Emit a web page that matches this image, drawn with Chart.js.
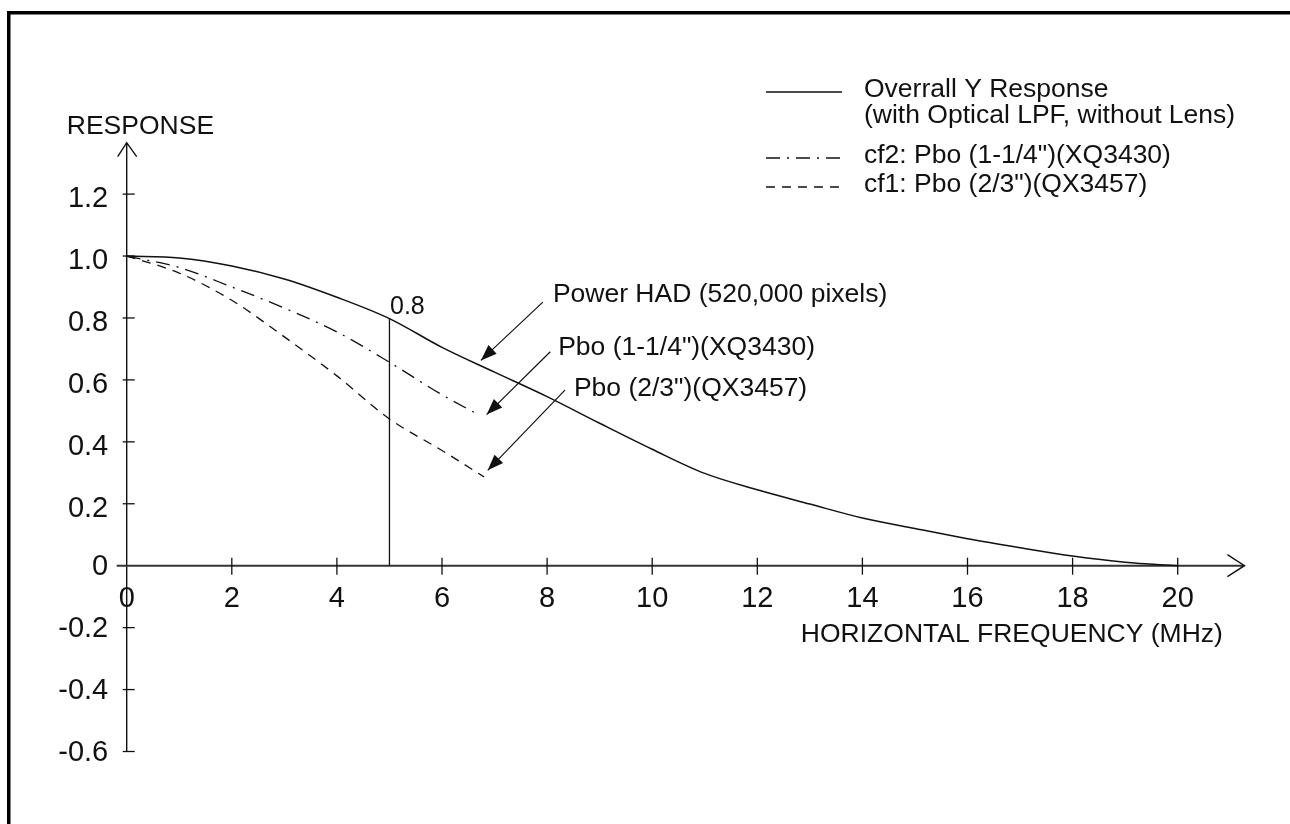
<!DOCTYPE html>
<html lang="en">
<head>
<meta charset="UTF-8">
<title>Horizontal frequency response</title>
<script src="https://cdn.jsdelivr.net/npm/chart.js"></script>
<style>
  html, body { margin: 0; padding: 0; background: #fff; }
  #wrap { width: 1290px; height: 824px; position: relative; }
</style>
</head>
<body>
<div id="wrap"><canvas id="myChart" width="1290" height="824"></canvas></div>
<script>
// values (MHz -> relative response)
var overallFreq = [0, 1, 2, 3, 4, 5, 6, 7, 8, 9, 10, 11, 12, 13, 14, 15, 16, 17, 18, 19, 20];
var overallResp = [1.0, 0.994, 0.968, 0.926, 0.867, 0.798, 0.705, 0.625, 0.546, 0.46, 0.376, 0.298, 0.245, 0.199, 0.154, 0.12, 0.087, 0.058, 0.031, 0.011, 0.0];

var cf2Freq = [0, 1, 2, 3, 4, 5, 6, 6.7];
var cf2Resp = [1.0, 0.963, 0.9, 0.832, 0.755, 0.657, 0.552, 0.487];

var cf1Freq = [0, 1, 2, 3, 4, 5, 6, 6.8];
var cf1Resp = [1.0, 0.945, 0.857, 0.739, 0.613, 0.474, 0.372, 0.287];

var xTicks = [0, 2, 4, 6, 8, 10, 12, 14, 16, 18, 20];
var yTicks = [1.2, 1.0, 0.8, 0.6, 0.4, 0.2, 0, -0.2, -0.4, -0.6];
var yTickLabels = ['1.2', '1.0', '0.8', '0.6', '0.4', '0.2', '0', '-0.2', '-0.4', '-0.6'];

var legendLabels = ['Overrall Y Response', 'cf2: Pbo (1-1/4")(XQ3430)', 'cf1: Pbo (2/3")(QX3457)'];
var legendSub = '(with Optical LPF, without Lens)';

var markerFreq = 5;
var markerResp = 0.8;

var FONT = '"Liberation Sans", Arial, Helvetica, sans-serif';
var INK = '#111';

function pts(xs, ys) {
    return xs.map(function (x, i) { return { x: x, y: ys[i] }; });
}

function arrow(ctx, x1, y1, x2, y2) {
    ctx.beginPath();
    ctx.moveTo(x1, y1);
    ctx.lineTo(x2, y2);
    ctx.stroke();
    var a = Math.atan2(y2 - y1, x2 - x1);
    var len = 16, half = 6;
    ctx.beginPath();
    ctx.moveTo(x2, y2);
    ctx.lineTo(x2 - len * Math.cos(a) + half * Math.sin(a), y2 - len * Math.sin(a) - half * Math.cos(a));
    ctx.lineTo(x2 - len * Math.cos(a) - half * Math.sin(a), y2 - len * Math.sin(a) + half * Math.cos(a));
    ctx.closePath();
    ctx.fill();
}

var drawing = {
    id: 'drawing',
    beforeDatasetsDraw: function (chart) {
        var ctx = chart.ctx;
        var xs = chart.scales.x, ys = chart.scales.y;
        var x0 = xs.getPixelForValue(0), y0 = ys.getPixelForValue(0);
        ctx.save();

        // frame (page cut: top and left edges only)
        ctx.fillStyle = '#000';
        ctx.fillRect(7, 11, 3.5, chart.height);
        ctx.fillRect(7, 11, chart.width, 3.5);

        ctx.strokeStyle = INK;
        ctx.fillStyle = INK;

        // y axis with open arrow
        var yTop = ys.getPixelForValue(1.366), yBot = ys.getPixelForValue(-0.6);
        ctx.lineWidth = 1.4;
        ctx.beginPath();
        ctx.moveTo(x0, yBot); ctx.lineTo(x0, yTop);
        ctx.moveTo(x0 - 9, yTop + 14); ctx.lineTo(x0, yTop); ctx.lineTo(x0 + 10, yTop + 14);
        ctx.stroke();

        // x axis with open arrow
        var xL = xs.getPixelForValue(-0.19), xR = xs.getPixelForValue(21.27);
        ctx.strokeStyle = '#333';
        ctx.lineWidth = 2;
        ctx.beginPath();
        ctx.moveTo(xL, y0); ctx.lineTo(xR, y0);
        ctx.stroke();
        ctx.lineWidth = 1.4;
        ctx.strokeStyle = INK;
        ctx.beginPath();
        ctx.moveTo(xR - 17, y0 - 11); ctx.lineTo(xR, y0); ctx.lineTo(xR - 17, y0 + 11);
        ctx.stroke();

        // ticks and tick labels
        ctx.lineWidth = 1.3;
        ctx.font = '29px ' + FONT;
        ctx.textAlign = 'right';
        ctx.textBaseline = 'alphabetic';
        yTicks.forEach(function (v, i) {
            var py = ys.getPixelForValue(v);
            if (v !== 0) {
                ctx.beginPath();
                ctx.moveTo(x0 - 4, py); ctx.lineTo(x0 + 8, py);
                ctx.stroke();
            }
            ctx.fillText(yTickLabels[i], x0 - 18.5, py + (v > 0 ? 13 : 9));
        });
        ctx.textAlign = 'center';
        xTicks.forEach(function (v) {
            var px = xs.getPixelForValue(v);
            if (v !== 0) {
                ctx.beginPath();
                ctx.moveTo(px, y0 - 8); ctx.lineTo(px, y0 + 9);
                ctx.stroke();
            }
            ctx.fillText(String(v), px, y0 + 41);
        });

        // axis titles
        ctx.font = '26.5px ' + FONT;
        ctx.textAlign = 'left';
        ctx.fillText('RESPONSE', xs.getPixelForValue(-1.14), ys.getPixelForValue(1.3956));
        ctx.textAlign = 'right';
        ctx.fillText('HORIZONTAL FREQUENCY (MHz)', xs.getPixelForValue(20.86), ys.getPixelForValue(-0.245));

        // marker at 5 MHz
        var mx = xs.getPixelForValue(markerFreq);
        ctx.lineWidth = 1.3;
        ctx.beginPath();
        ctx.moveTo(mx, y0); ctx.lineTo(mx, ys.getPixelForValue(markerResp));
        ctx.stroke();
        ctx.font = '25px ' + FONT;
        ctx.textAlign = 'left';
        ctx.fillText(String(markerResp), xs.getPixelForValue(5.01), ys.getPixelForValue(0.813));
        ctx.restore();
    },
    afterDatasetsDraw: function (chart) {
        var ctx = chart.ctx;
        var xs = chart.scales.x, ys = chart.scales.y;
        ctx.save();
        ctx.strokeStyle = INK;
        ctx.fillStyle = INK;

        // curve callouts
        var notes = [
            { text: 'Power HAD (520,000 pixels)', tx: 8.11, ty: 0.851, from: [7.92, 0.851], to: [6.74, 0.663] },
            { text: 'Pbo (1-1/4")(XQ3430)', tx: 8.21, ty: 0.680, from: [8.06, 0.691], to: [6.85, 0.488] },
            { text: 'Pbo (2/3")(QX3457)', tx: 8.51, ty: 0.548, from: [8.34, 0.567], to: [6.87, 0.308] }
        ];
        ctx.font = '26.5px ' + FONT;
        ctx.textAlign = 'left';
        ctx.textBaseline = 'alphabetic';
        ctx.lineWidth = 1.2;
        notes.forEach(function (n) {
            ctx.fillText(n.text, xs.getPixelForValue(n.tx), ys.getPixelForValue(n.ty));
            arrow(ctx, xs.getPixelForValue(n.from[0]), ys.getPixelForValue(n.from[1]),
                xs.getPixelForValue(n.to[0]), ys.getPixelForValue(n.to[1]));
        });

        // legend
        var ds = chart.data.datasets;
        var rows = [97, 163, 192];
        ctx.font = '26.5px ' + FONT;
        rows.forEach(function (by, i) {
            ctx.lineWidth = 1.4;
            ctx.setLineDash(ds[i].borderDash || []);
            ctx.beginPath();
            ctx.moveTo(766, by - 5); ctx.lineTo(842, by - 5);
            ctx.stroke();
            ctx.setLineDash([]);
            ctx.fillText(legendLabels[i], 864, by);
        });
        ctx.fillText(legendSub, 864, 123);
        ctx.restore();
    }
};

var config = {
    type: 'line',
    data: {
        datasets: [
            {
                label: legendLabels[0],
                data: pts(overallFreq, overallResp),
                borderColor: INK,
                borderWidth: 1.5,
                pointRadius: 0,
                cubicInterpolationMode: 'monotone',
                borderDash: []
            },
            {
                label: legendLabels[1],
                data: pts(cf2Freq, cf2Resp),
                borderColor: INK,
                borderWidth: 1.3,
                pointRadius: 0,
                cubicInterpolationMode: 'monotone',
                borderDash: [14, 7, 2, 7]
            },
            {
                label: legendLabels[2],
                data: pts(cf1Freq, cf1Resp),
                borderColor: INK,
                borderWidth: 1.3,
                pointRadius: 0,
                cubicInterpolationMode: 'monotone',
                borderDash: [9, 7]
            }
        ]
    },
    options: {
        responsive: false,
        animation: false,
        devicePixelRatio: 1,
        clip: false,
        layout: { padding: { left: 126.7, right: 112.3, top: 194.1, bottom: 72.5 } },
        scales: {
            x: { type: 'linear', min: 0, max: 20, display: false },
            y: { type: 'linear', min: -0.6, max: 1.2, display: false }
        },
        plugins: {
            legend: { display: false },
            tooltip: { enabled: false }
        }
    },
    plugins: [drawing]
};

var myChart = new Chart(document.getElementById('myChart'), config);
</script>
</body>
</html>
